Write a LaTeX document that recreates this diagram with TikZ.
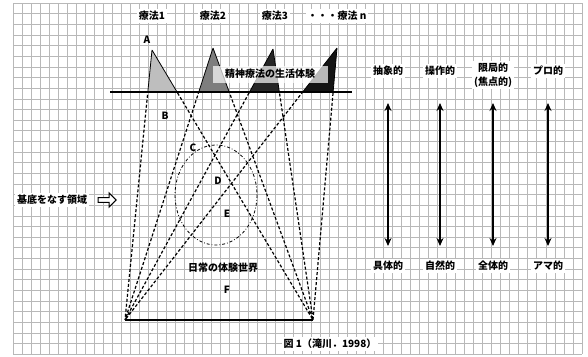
\documentclass[tikz,border=0pt]{standalone}
\usepackage{fontspec}
\usepackage{xcolor}
\usepackage{tikz}
\usetikzlibrary{arrows.meta,shapes.arrows}
\newfontfamily\jpfont{Noto Sans CJK JP}
\definecolor{gridgray}{HTML}{B8B8B8}
\definecolor{toneA}{HTML}{BEBEBE}
\definecolor{toneB}{HTML}{7E7E7E}
\definecolor{toneC}{HTML}{262626}
\definecolor{toneD}{HTML}{141414}

\begin{document}
\begin{tikzpicture}[x=1pt,y=-1pt,
    jplabel/.style={font=\jpfont\bfseries\fontsize{10}{12}\selectfont,fill=white,inner sep=2pt},
    letter/.style={font=\jpfont\bfseries\fontsize{10}{12}\selectfont,inner sep=1pt},
    dashline/.style={line width=1.2pt,dash pattern=on 3pt off 2pt},
    dblarrow/.style={{Stealth[length=8pt,width=7pt]}-{Stealth[length=8pt,width=7pt]},line width=1.1pt}]
  \useasboundingbox (0,0) rectangle (588,356);
  \fill[white] (0,0) rectangle (588,356);
  \foreach \i in {0,...,63}
    \draw[gridgray,line width=0.5pt] ({13+\i*9.03},3) -- ({13+\i*9.03},354);
  \foreach \j in {0,...,33}
    \draw[gridgray,line width=0.5pt] (13,{3+\j*10.64}) -- (582,{3+\j*10.64});

  \coordinate (bl) at (125,320);
  \coordinate (br) at (313,320);
  \coordinate (p1) at (152,50);
  \coordinate (p2) at (213,48);
  \coordinate (p3) at (273,49);
  \coordinate (p4) at (337,48);
  \coordinate (gl) at (110,92);
  \coordinate (gr) at (352,92);

  \begin{scope}
    \clip (0,0) rectangle (588,92);
    \fill[toneA] (p1) -- (bl) -- (br) -- cycle;
    \fill[toneB] (p2) -- (bl) -- (br) -- cycle;
    \fill[toneC] (p3) -- (bl) -- (br) -- cycle;
    \fill[toneD] (p4) -- (bl) -- (br) -- cycle;
    \draw[thick] (p1) -- (bl) (p1) -- (br) (p2) -- (bl) (p2) -- (br)
                 (p3) -- (bl) (p3) -- (br) (p4) -- (bl) (p4) -- (br);
  \end{scope}
  \begin{scope}
    \clip (0,92) rectangle (588,356);
    \draw[dashline] (p1) -- (bl) (p1) -- (br) (p2) -- (bl) (p2) -- (br)
                    (p3) -- (bl) (p3) -- (br) (p4) -- (bl) (p4) -- (br);
  \end{scope}
  \draw[line width=1.1pt] (gl) -- (gr);
  \draw[line width=2.2pt] (bl) -- (br);
  \draw[thick,dash dot] (216,195) ellipse [x radius=41, y radius=50];

  \node[jplabel,fill opacity=0.7,text opacity=1,minimum width=115pt,minimum height=17pt] (life) at (270,74) {精神療法の生活体験};

  \node[jplabel] (m1) at (152,16) {療法1};
  \node[jplabel] (m2) at (213,16) {療法2};
  \node[jplabel] (m3) at (275,16) {療法3};
  \node[jplabel] (mn) at (337,16) {・・・療法 n};

  \node[letter] (la) at (147,40) {A};
  \node[letter] (lb) at (165,116) {B};
  \node[letter] (lc) at (193,148) {C};
  \node[letter] (ld) at (218,181) {D};
  \node[letter] (le) at (227,214) {E};
  \node[letter] (daily) at (223,268) {日常の体験世界};
  \node[letter] (lf) at (227,290) {F};

  \node[jplabel] (base) at (52,200) {基底をなす領域};
  \node[single arrow,draw,line width=1.1pt,fill=white,minimum height=18pt,minimum width=14pt,
        single arrow head extend=3pt,inner sep=1pt] (hollow) at (106,200) {};

  \node[jplabel] (t1) at (388,71) {抽象的};
  \node[jplabel] (t2) at (440,71) {操作的};
  \node[jplabel,align=center,font=\jpfont\bfseries\fontsize{10}{14}\selectfont] (t3) at (493,75) {限局的\\(焦点的)};
  \node[jplabel] (t4) at (548,71) {プロ的};
  \node[jplabel] (b1) at (388,266) {具体的};
  \node[jplabel] (b2) at (440,266) {自然的};
  \node[jplabel] (b3) at (493,266) {全体的};
  \node[jplabel] (b4) at (548,266) {アマ的};

  \foreach \k/\xx in {1/388,2/440,3/493,4/548} {
    \coordinate (u\k) at (\xx,103);
    \coordinate (d\k) at (\xx,246);
    \draw[dblarrow] (u\k) -- (d\k);
  }

  \node[letter,fill=white,inner sep=2pt] (cap) at (330,344) {図 1（滝川．1998）};
\end{tikzpicture}
\end{document}
